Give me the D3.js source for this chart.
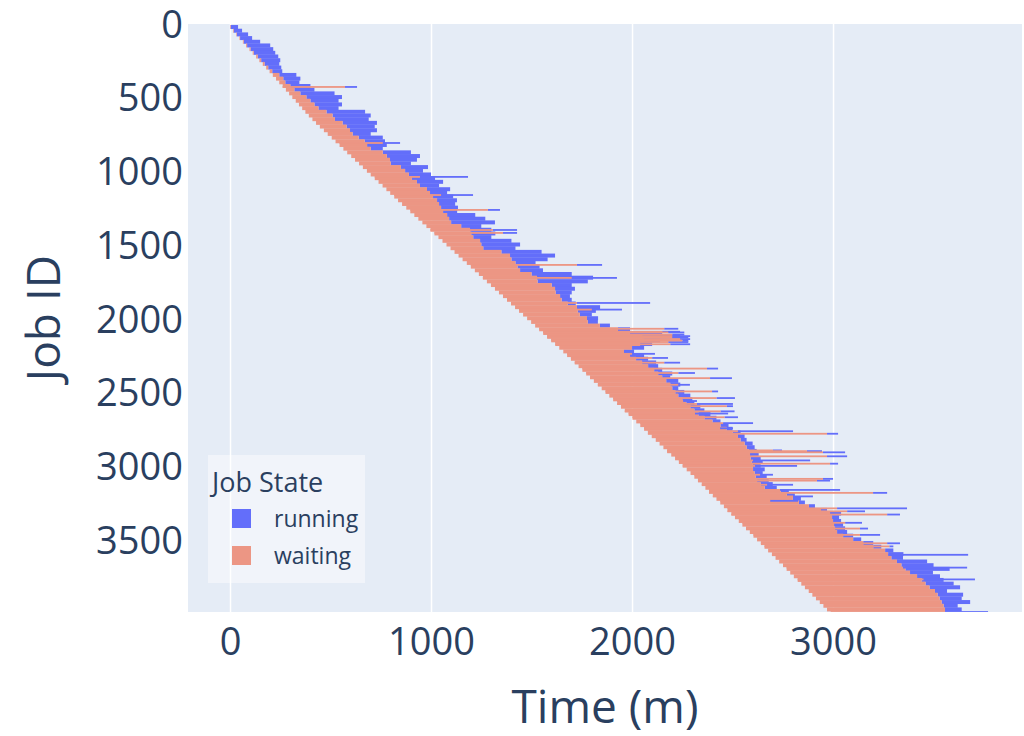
<!DOCTYPE html>
<html>
<head>
<meta charset="utf-8">
<script src="https://cdn.jsdelivr.net/npm/d3@7"></script>
<style>
  html, body { margin: 0; padding: 0; background: #ffffff; }
  svg { display: block; }
  text { font-family: "Open Sans", "Liberation Sans", Arial, sans-serif; fill: #2a3f5f; }
</style>
</head>
<body>
<svg id="chart" width="1024" height="736"></svg>
<script>
// Job blocks of 25 consecutive job IDs: submit time, time the bulk of the
// block starts running, and time the bulk of the block finishes (minutes).
const blockSize = 25;
const submitTimes = [
  0, 15, 31, 47, 64, 80, 97, 113, 130, 146, 163, 180, 197, 213, 229, 245,
  262, 278, 294, 310, 327, 343, 359, 375, 392, 410, 428, 447, 467, 486, 506, 525,
  545, 564, 583, 603, 622, 642, 661, 681, 700, 720, 739, 759, 778, 797, 817, 836,
  856, 877, 897, 917, 937, 957, 977, 997, 1017, 1037, 1057, 1077, 1097, 1117, 1137, 1157,
  1178, 1198, 1218, 1238, 1258, 1278, 1298, 1318, 1338, 1358, 1378, 1398, 1418, 1438, 1458, 1478,
  1498, 1518, 1538, 1558, 1578, 1598, 1618, 1638, 1658, 1677, 1696, 1715, 1734, 1753, 1772, 1791,
  1810, 1830, 1849, 1868, 1887, 1906, 1926, 1945, 1964, 1983, 2002, 2021, 2041, 2060, 2079, 2098,
  2118, 2137, 2156, 2175, 2195, 2214, 2233, 2252, 2272, 2291, 2310, 2328, 2347, 2365, 2383, 2402,
  2420, 2439, 2457, 2475, 2494, 2512, 2531, 2549, 2567, 2586, 2604, 2622, 2641, 2659, 2677, 2696,
  2714, 2732, 2751, 2769, 2787, 2805, 2824, 2842, 2860, 2879, 2897, 2915, 2934, 2952, 2970, 2988
];
const startTimes = [
  3, 18, 34, 50, 68, 85, 102, 118, 138, 155, 172, 190, 210, 245, 265, 275,
  300, 320, 350, 380, 400, 420, 440, 480, 510, 522, 560, 580, 597, 610, 640, 670,
  682, 700, 760, 780, 796, 800, 850, 871, 890, 905, 930, 945, 980, 995, 1010, 1030,
  1040, 1050, 1060, 1080, 1090, 1100, 1150, 1194, 1200, 1210, 1244, 1250, 1260, 1350, 1393, 1400,
  1420, 1430, 1443, 1500, 1527, 1530, 1600, 1617, 1620, 1642, 1650, 1680, 1726, 1730, 1740, 1776,
  1780, 1840, 1930, 1990, 2050, 2060, 2040, 2000, 1960, 1990, 2020, 2050, 2080, 2110, 2130, 2150,
  2170, 2190, 2200, 2215, 2230, 2250, 2270, 2290, 2310, 2330, 2360, 2400, 2440, 2470, 2500, 2527,
  2540, 2560, 2570, 2580, 2587, 2590, 2595, 2600, 2602, 2610, 2615, 2622, 2640, 2660, 2740, 2770,
  2800, 2830, 2880, 2940, 2985, 2995, 3000, 3005, 3010, 3020, 3050, 3100, 3150, 3200, 3259, 3274,
  3290, 3318, 3340, 3360, 3383, 3418, 3440, 3460, 3480, 3507, 3520, 3530, 3540, 3550, 3557, 3557
];
const endTimes = [
  40, 60, 90, 110, 150, 200, 215, 225, 240, 250, 245, 255, 260, 330, 350, 345,
  400, 420, 520, 557, 540, 557, 540, 672, 700, 690, 731, 720, 731, 700, 760, 771,
  780, 760, 900, 945, 930, 900, 985, 960, 1000, 1020, 1060, 1040, 1095, 1080, 1110, 1129,
  1120, 1134, 1130, 1220, 1270, 1318, 1250, 1300, 1320, 1300, 1400, 1443, 1420, 1550, 1617, 1580,
  1520, 1540, 1557, 1700, 1806, 1780, 1700, 1716, 1700, 1691, 1700, 1720, 1841, 1820, 1800, 1831,
  1830, 1890, 1990, 2150, 2239, 2140, 2100, 2060, 2010, 2060, 2080, 2120, 2130, 2150, 2200, 2190,
  2230, 2240, 2230, 2260, 2290, 2300, 2310, 2340, 2360, 2390, 2420, 2440, 2480, 2500, 2540, 2560,
  2570, 2600, 2610, 2620, 2630, 2640, 2650, 2640, 2660, 2650, 2670, 2680, 2700, 2720, 2780, 2810,
  2840, 2860, 2910, 2970, 3040, 3030, 3040, 3050, 3060, 3070, 3100, 3140, 3200, 3240, 3300, 3350,
  3348, 3468, 3500, 3580, 3497, 3532, 3550, 3600, 3632, 3567, 3647, 3640, 3682, 3620, 3640, 3771
];

// Individual jobs that waited or ran much longer than their neighbours.
const longJobIds = [
  420, 800, 1030, 1153, 1254, 1390, 1410, 1627, 1715, 1885, 1930,
  2060, 2080, 2085, 2100, 2110, 2120, 2130, 2140, 2150, 2165, 2230, 2258, 2290, 2330, 2360, 2395,
  2440, 2485, 2530, 2550, 2570, 2585, 2620, 2635, 2660, 2700, 2735, 2755, 2772, 2885, 2890, 2898,
  2925, 2953, 2975, 2990, 3050, 3078, 3090, 3118, 3153, 3173, 3197, 3227, 3278, 3298, 3320, 3376,
  3415, 3458, 3515, 3536, 3593, 3680, 3760
];
const longJobStarts = [
  572, 760, 945, 1050, 1283, 1308, 1358, 1726, 1700, 1726, 1800,
  2160, 2150, 2180, 2200, 2200, 2200, 2239, 2250, 2180, 2190, 2000, 2100, 2160, 2373, 2230, 2388,
  2230, 2398, 2420, 2254, 2323, 2472, 2440, 2313, 2460, 2453, 2438, 2527, 2970, 2700, 2870, 2950,
  2970, 2602, 2985, 2612, 2637, 2950, 2920, 2672, 2736, 3199, 2801, 2687, 3020, 3070, 3269, 3060,
  3134, 3134, 3269, 3280, 3274, 3348, 3450
];
const longJobEnds = [
  632, 846, 1184, 1209, 1343, 1428, 1428, 1851, 1925, 2090, 1950,
  2230, 2239, 2260, 2260, 2289, 2280, 2289, 2280, 2280, 2289, 2114, 2179, 2239, 2428, 2313, 2497,
  2288, 2428, 2512, 2323, 2502, 2502, 2510, 2478, 2527, 2602, 2502, 2801, 3025, 2746, 2945, 3060,
  3070, 2886, 3025, 2821, 2701, 3000, 2985, 2801, 3035, 3269, 2900, 2826, 3368, 3159, 3333, 3144,
  3174, 3234, 3333, 3300, 3672, 3667, 3706
];

const states = ["running", "waiting"];
const stateColors = ["#636efa", "#ec9684"];
const xTicks = [0, 1000, 2000, 3000];
const yTicks = [0, 500, 1000, 1500, 2000, 2500, 3000, 3500];

const svg = d3.select("#chart");
const plot = { left: 188, right: 1022, top: 24, bottom: 612 };

const x = d3.scaleLinear().domain([-209, 3940]).range([plot.left, plot.right]);
const y = d3.scaleLinear().domain([-7, 3981]).range([plot.top, plot.bottom]);
const color = d3.scaleOrdinal().domain(states).range(stateColors);

svg.append("defs").append("clipPath").attr("id", "plot-clip")
  .append("rect")
  .attr("x", plot.left).attr("y", plot.top)
  .attr("width", plot.right - plot.left).attr("height", plot.bottom - plot.top);

svg.append("rect")
  .attr("x", plot.left).attr("y", plot.top)
  .attr("width", plot.right - plot.left).attr("height", plot.bottom - plot.top)
  .attr("fill", "#e5ecf6");

// vertical grid
svg.append("g")
  .attr("transform", `translate(0,${plot.bottom})`)
  .call(d3.axisBottom(x).tickValues(xTicks).tickSize(-(plot.bottom - plot.top)).tickFormat(""))
  .call(g => g.select(".domain").remove())
  .call(g => g.selectAll("line").attr("stroke", "#ffffff").attr("stroke-width", 1.5));

const blocks = submitTimes.map((s, i) => ({
  id: i * blockSize, submit: s, start: startTimes[i], end: endTimes[i]
}));
const longJobs = longJobIds.map((id, i) => ({
  id, submit: submitTimes[Math.floor(id / blockSize)], start: longJobStarts[i], end: longJobEnds[i]
}));

const marks = svg.append("g").attr("clip-path", "url(#plot-clip)");

// running segments first, waiting segments on top
marks.append("g").selectAll("rect").data(blocks).join("rect")
  .attr("x", d => x(d.start))
  .attr("y", d => y(d.id))
  .attr("width", d => Math.max(0, x(d.end) - x(d.start)))
  .attr("height", d => y(d.id + blockSize) - y(d.id) + 0.3)
  .attr("fill", color("running"));

marks.append("g").selectAll("rect").data(blocks).join("rect")
  .attr("x", d => x(d.submit))
  .attr("y", d => y(d.id))
  .attr("width", d => Math.max(0, x(d.start) - x(d.submit)))
  .attr("height", d => y(d.id + blockSize) - y(d.id) + 0.3)
  .attr("fill", color("waiting"));

const lineH = 1.8;
marks.append("g").selectAll("rect").data(longJobs).join("rect")
  .attr("x", d => x(d.start))
  .attr("y", d => y(d.id) - lineH / 2)
  .attr("width", d => Math.max(0, x(d.end) - x(d.start)))
  .attr("height", lineH)
  .attr("fill", color("running"));

marks.append("g").selectAll("rect").data(longJobs).join("rect")
  .attr("x", d => x(d.submit))
  .attr("y", d => y(d.id) - lineH / 2)
  .attr("width", d => Math.max(0, x(d.start) - x(d.submit)))
  .attr("height", lineH)
  .attr("fill", color("waiting"));

// axes
const xAxis = svg.append("g")
  .attr("transform", `translate(0,${plot.bottom})`)
  .call(d3.axisBottom(x).tickValues(xTicks).tickSize(0).tickPadding(16).tickFormat(d3.format("d")));
xAxis.select(".domain").remove();
xAxis.selectAll("text").attr("font-size", 38).style("fill", "#2a3f5f");

const yAxis = svg.append("g")
  .attr("transform", `translate(${plot.left},0)`)
  .call(d3.axisLeft(y).tickValues(yTicks).tickSize(0).tickPadding(5).tickFormat(d3.format("d")));
yAxis.select(".domain").remove();
yAxis.selectAll("text").attr("font-size", 38).style("fill", "#2a3f5f");

svg.append("text")
  .attr("x", (plot.left + plot.right) / 2).attr("y", 723)
  .attr("text-anchor", "middle").attr("font-size", 46)
  .text("Time (m)");

svg.append("text")
  .attr("transform", `translate(60,${(plot.top + plot.bottom) / 2}) rotate(-90)`)
  .attr("text-anchor", "middle").attr("font-size", 46)
  .text("Job ID");

// legend
const legend = svg.append("g").attr("transform", "translate(208,455)");
legend.append("rect")
  .attr("width", 157).attr("height", 128)
  .attr("fill", "rgba(255,255,255,0.45)");
legend.append("text")
  .attr("x", 4).attr("y", 37).attr("font-size", 27)
  .text("Job State");
const items = legend.selectAll("g.item").data(states).join("g")
  .attr("class", "item")
  .attr("transform", (d, i) => `translate(0,${64 + i * 37})`);
items.append("rect")
  .attr("x", 24).attr("y", -10).attr("width", 19).attr("height", 19)
  .attr("fill", d => color(d));
items.append("text")
  .attr("x", 66).attr("y", 0).attr("dy", "0.35em").attr("font-size", 23)
  .text(d => d);
</script>
</body>
</html>
